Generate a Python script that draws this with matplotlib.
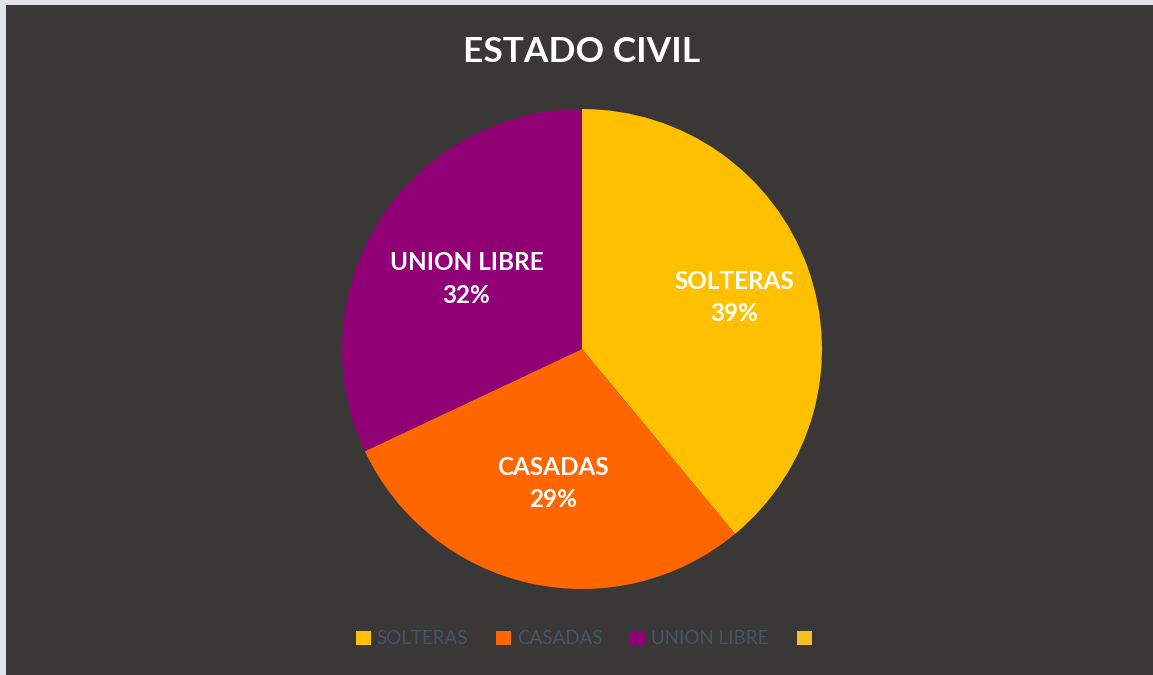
import numpy as np
import matplotlib.pyplot as plt
from matplotlib.patches import Rectangle, Patch

categorias = ['SOLTERAS', 'CASADAS', 'UNION LIBRE', '']
porcentajes = [39, 29, 32, 0]
colores = ['#FFC000', '#FF6600', '#920075', '#F5C020']

plt.rcParams['font.family'] = ['Lato', 'DejaVu Sans']

W, H = 1153, 675
fig = plt.figure(figsize=(W / 100, H / 100), dpi=100, facecolor='#E1E5EA')
# fondo oscuro del grafico
fig.patches.append(Rectangle((6 / W, 0), 1 - 6 / W, 1 - 5 / H, transform=fig.transFigure,
                             facecolor='#3A3836', edgecolor='none', zorder=-10))

cx, cy, r = 582, 349, 240
ax = fig.add_axes([(cx - r) / W, (H - cy - r) / H, 2 * r / W, 2 * r / H])
ax.set_facecolor('none')
ax.set_zorder(5)

# solo las porciones con valor
vals = [v for v in porcentajes if v > 0]
wedges, _ = ax.pie(vals, colors=colores[:len(vals)], startangle=90, counterclock=False,
                   radius=1, wedgeprops=dict(linewidth=0))
ax.set_xlim(-1, 1)
ax.set_ylim(-1, 1)
ax.set_aspect('equal')
ax.axis('off')

pos = {0: 0.675, 1: 0.56, 2: 0.57}
for i, w in enumerate(wedges):
    ang = np.deg2rad((w.theta1 + w.theta2) / 2)
    d = pos[i]
    ax.text(d * np.cos(ang), d * np.sin(ang) - 0.014, f'{categorias[i]}\n{porcentajes[i]}%',
            ha='center', va='center', color='white', fontsize=17.5, fontweight='bold',
            linespacing=1.5)

fig.text(cx / W, 1 - 52 / H, 'ESTADO CIVIL', ha='center', va='center', color='white',
         fontsize=25.5, fontweight='bold')

handles = [Patch(facecolor=c, edgecolor='none') for c in colores]
fig.legend(handles, categorias, loc='center', bbox_to_anchor=(cx / W + 0.004, 1 - 639 / H), ncol=4,
           frameon=False, fontsize=13.5, labelcolor='#44546A', handlelength=0.8, handleheight=0.8,
           handletextpad=0.3, columnspacing=1.5)

fig.savefig('out.png', dpi=100, facecolor=fig.get_facecolor())
